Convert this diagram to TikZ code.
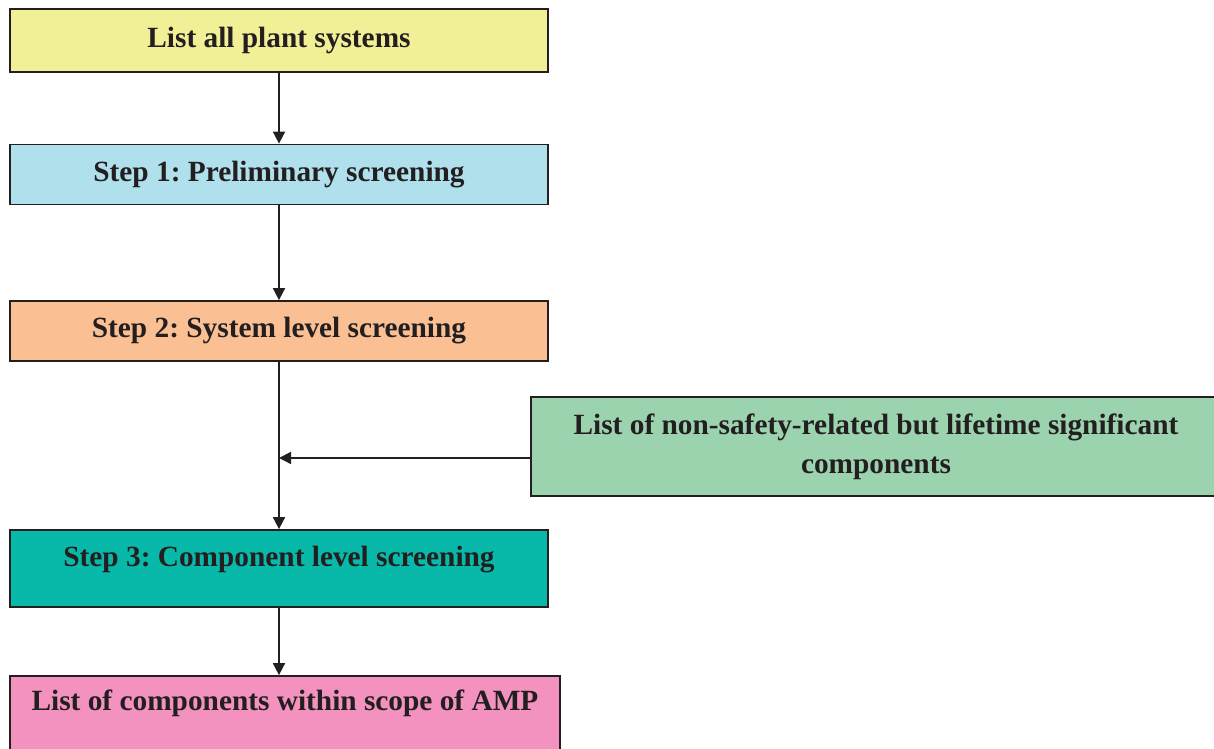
\documentclass[tikz,border=0pt]{standalone}
\usepackage{fontspec}
\setmainfont{Liberation Serif}
\frenchspacing
\usetikzlibrary{arrows.meta}
\definecolor{sysyellow}{RGB}{242,240,150}
\definecolor{stepblue}{RGB}{176,224,236}
\definecolor{steppeach}{RGB}{250,192,148}
\definecolor{nsrgreen}{RGB}{155,211,174}
\definecolor{stepteal}{RGB}{8,184,168}
\definecolor{amppink}{RGB}{243,146,190}
\definecolor{ink}{RGB}{35,31,32}
\begin{document}
\begin{tikzpicture}
        [x=0.75pt,y=-0.75pt]
            \tikzstyle{every node}=[rectangle, draw=ink, line width=1.3pt,
        inner sep=3pt, font=\bfseries\fontsize{22}{29}\selectfont, text=ink]
            \tikzstyle{wide box}=[minimum width=403.5pt]
            \tikzstyle{flow}=[draw=ink, line width=1.3pt, -{Triangle[length=9pt,width=9pt]}]
        %-----boxes
         \fill[white] (0,0) rectangle (1214,749);
         \useasboundingbox (0,0) rectangle (1214,749);
         \node[wide box, minimum height=47.25pt, fill=sysyellow]  (sys) at (279,40.5) {List all plant systems};
         \node[wide box, minimum height=45pt, fill=stepblue]  (st1) at (279,174.5) {Step 1: Preliminary screening};
         \node[wide box, minimum height=45pt, fill=steppeach]  (st2) at (279,331) {Step 2: System level screening};
         \node[minimum width=517.5pt, minimum height=74.25pt, fill=nsrgreen, align=center]  (nsr) at (876,446.5)
              {List of non-safety-related but lifetime significant\\components};
         \node[wide box, minimum height=57.75pt, fill=stepteal, text height=15.5pt, text depth=19pt]  (st3) at (279,568.5) {Step 3: Component level screening};
         \node[minimum width=412.5pt, minimum height=67.5pt, fill=amppink, text height=15.5pt, text depth=32pt]  (amp) at (285,721) {List of components within scope of AMP};

         \coordinate (nsrin) at ([yshift=-8.6pt]nsr.west);
         \coordinate (join) at (nsrin -| st2.south);

         \foreach \from/\to in {sys/st1, st1/st2, st2/st3}
         \draw[flow] (\from.south) -- (\to.north);
         \draw[flow] (st3.south) -- (st3.south |- amp.north);
         \draw[flow] (nsrin) -- (join);

    % flow of the scoping steps
        \end{tikzpicture}
\end{document}
